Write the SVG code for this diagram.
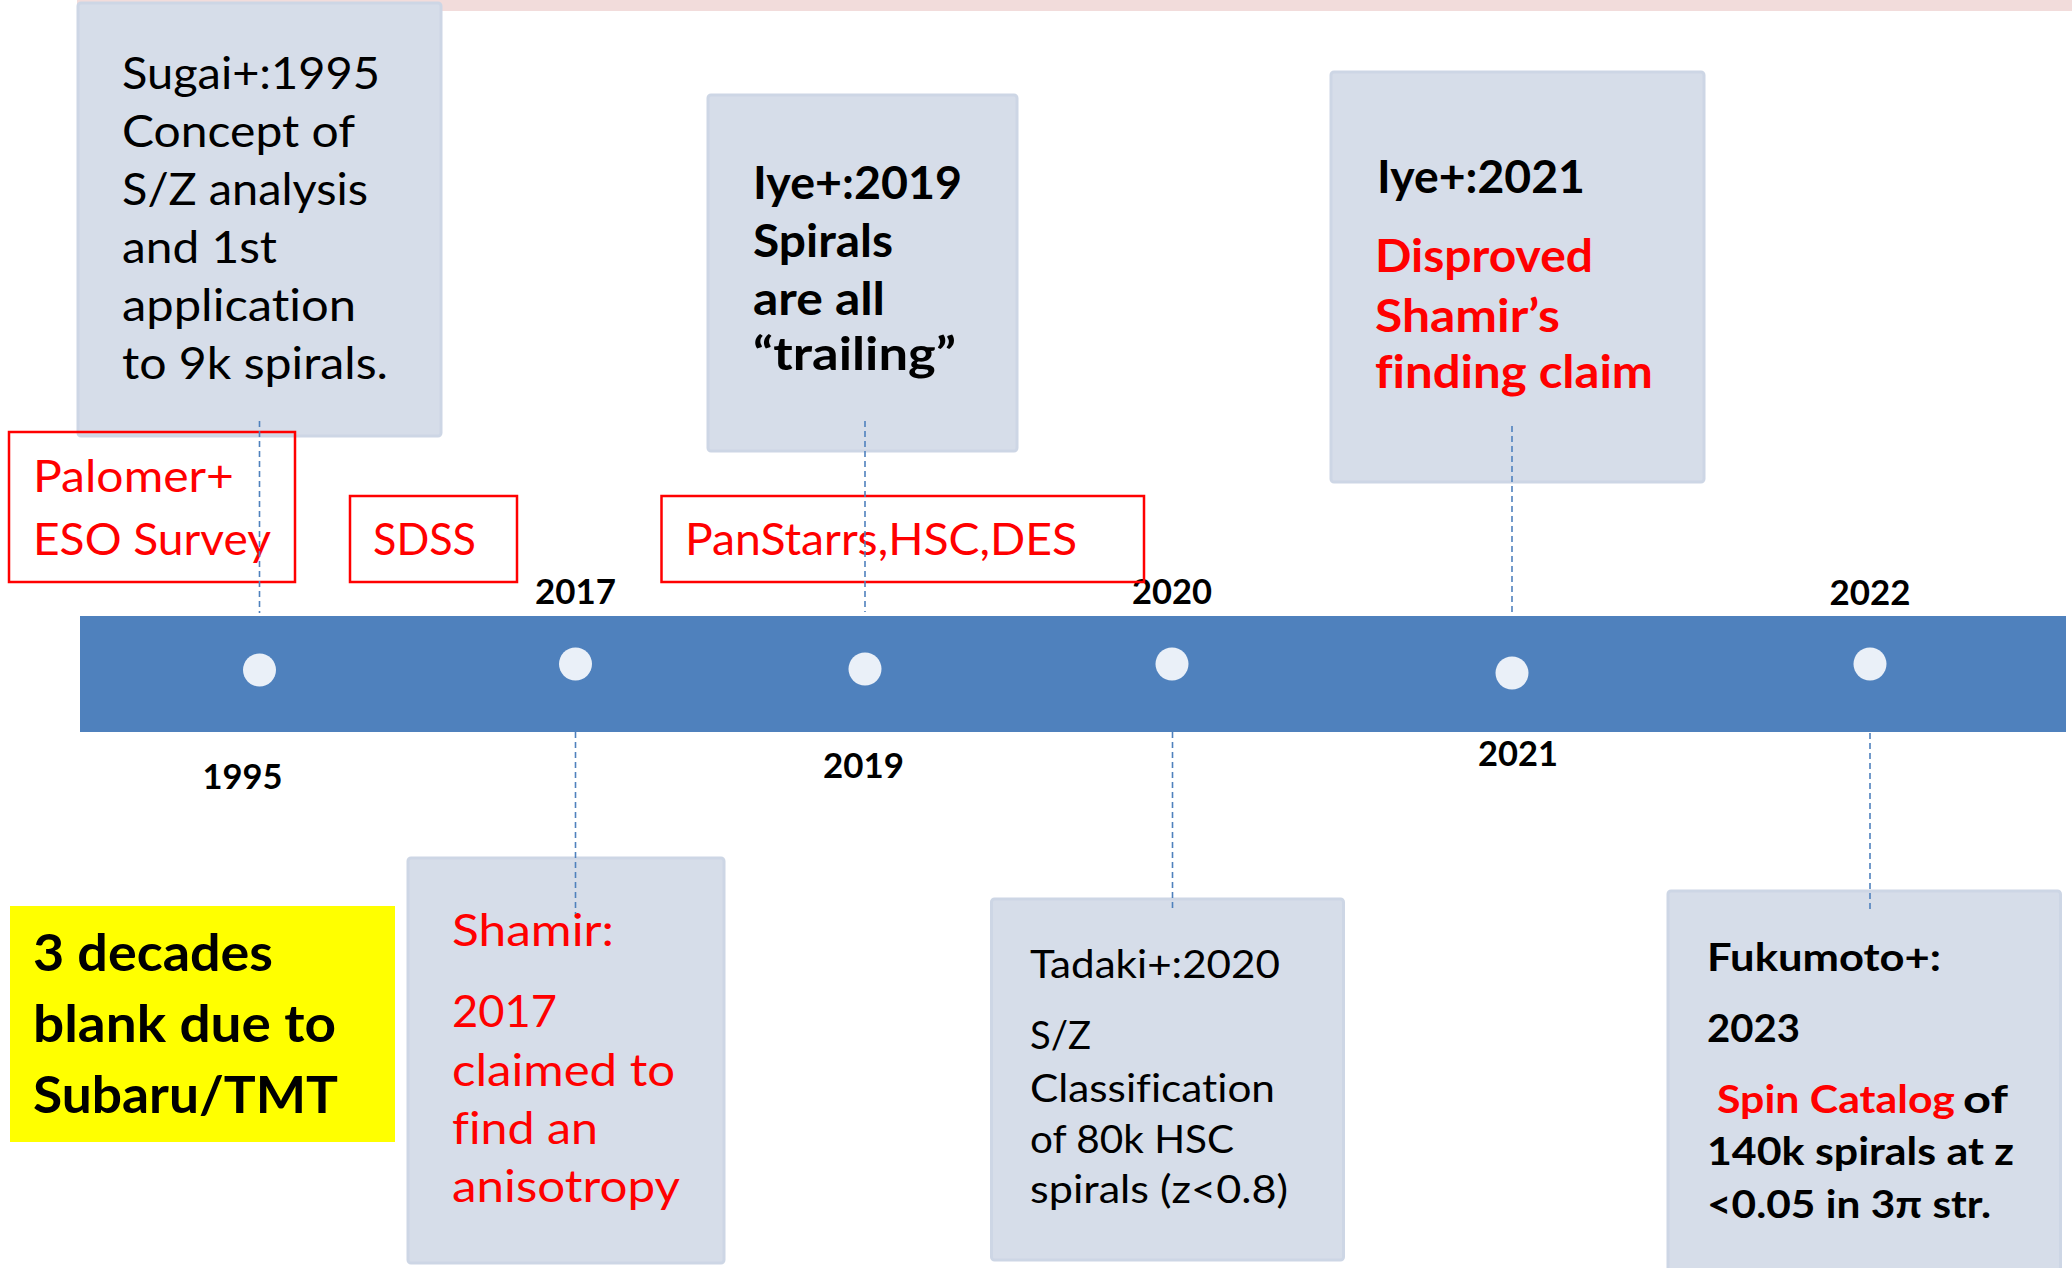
<svg xmlns="http://www.w3.org/2000/svg" width="2072" height="1268" viewBox="0 0 2072 1268">
  <style>
    text { font-family: Lato, "Open Sans", "Liberation Sans", sans-serif; font-variant-ligatures: none; font-feature-settings: "liga" 0, "dlig" 0; }
    .card { fill: #d6dde9; stroke: #cdd6e5; stroke-width: 3; }
    .survey { fill: none; stroke: #ff0000; stroke-width: 2.5; }
    .reg { font-size: 45px; font-weight: 400; }
    .bold { font-size: 46px; font-weight: 700; }
    .small { font-size: 39px; font-weight: 400; }
    .smallb { font-size: 39px; font-weight: 700; }
    .year { font-size: 35px; font-weight: 700; fill: #000; text-anchor: middle; }
    .ink { fill: #000; }
    .red { fill: #ff0000; }
    .lead { stroke: #4f81bd; stroke-width: 1.6; stroke-dasharray: 6 4; fill: none; }
    .dot { fill: #eaf0f8; }
  </style>

  <!-- header strip -->
  <rect x="77" y="0" width="1995" height="11" fill="#f2dcdb"/>

  <!-- timeline bar -->
  <g id="timeline">
    <rect x="80" y="616" width="1986" height="116" fill="#4f81bd"/>
    <circle class="dot" cx="259.5" cy="670" r="16.5"/>
    <circle class="dot" cx="575.5" cy="664" r="16.5"/>
    <circle class="dot" cx="865" cy="669" r="16.5"/>
    <circle class="dot" cx="1172" cy="664" r="16.5"/>
    <circle class="dot" cx="1512" cy="673" r="16.5"/>
    <circle class="dot" cx="1870" cy="664" r="16.5"/>
  </g>

  <!-- year labels -->
  <g id="years">
    <text class="year" x="242.5" y="789" textLength="80" lengthAdjust="spacingAndGlyphs">1995</text>
    <text class="year" x="575.5" y="604" textLength="81" lengthAdjust="spacingAndGlyphs">2017</text>
    <text class="year" x="863.5" y="778" textLength="81" lengthAdjust="spacingAndGlyphs">2019</text>
    <text class="year" x="1172" y="604" textLength="80" lengthAdjust="spacingAndGlyphs">2020</text>
    <text class="year" x="1518" y="766" textLength="80" lengthAdjust="spacingAndGlyphs">2021</text>
    <text class="year" x="1870" y="605" textLength="81" lengthAdjust="spacingAndGlyphs">2022</text>
  </g>

  <!-- 1995 paper -->
  <g id="sugai1995">
    <rect class="card" x="78" y="3" width="363" height="433" rx="3"/>
    <text class="reg ink" x="122" y="89" textLength="258" lengthAdjust="spacingAndGlyphs">Sugai+:1995</text>
    <text class="reg ink" x="122" y="147" textLength="233" lengthAdjust="spacingAndGlyphs">Concept of</text>
    <text class="reg ink" x="122" y="205" textLength="246" lengthAdjust="spacingAndGlyphs">S/Z analysis</text>
    <text class="reg ink" x="122" y="263" textLength="155" lengthAdjust="spacingAndGlyphs">and 1st</text>
    <text class="reg ink" x="122" y="321" textLength="234" lengthAdjust="spacingAndGlyphs">application</text>
    <text class="reg ink" x="122" y="379" textLength="266" lengthAdjust="spacingAndGlyphs">to 9k spirals.</text>
  </g>

  <!-- surveys -->
  <g id="survey-palomar">
    <rect class="survey" x="9" y="432" width="286" height="150"/>
    <text class="reg red" x="33" y="492" textLength="201" lengthAdjust="spacingAndGlyphs">Palomer+</text>
    <text class="reg red" x="33" y="555" textLength="238" lengthAdjust="spacingAndGlyphs">ESO Survey</text>
  </g>
  <g id="survey-sdss">
    <rect class="survey" x="350" y="496" width="167" height="86"/>
    <text class="reg red" x="373" y="555" textLength="103" lengthAdjust="spacingAndGlyphs">SDSS</text>
  </g>
  <g id="survey-panstarrs">
    <rect class="survey" x="661.5" y="496" width="482.5" height="86"/>
    <text class="reg red" x="685" y="555" textLength="392" lengthAdjust="spacingAndGlyphs">PanStarrs,HSC,DES</text>
  </g>

  <!-- 2019 paper -->
  <g id="iye2019">
    <rect class="card" x="708" y="95" width="309" height="356" rx="3"/>
    <text class="bold ink" x="753" y="199" textLength="209" lengthAdjust="spacingAndGlyphs">Iye+:2019</text>
    <text class="bold ink" x="753" y="257" textLength="140" lengthAdjust="spacingAndGlyphs">Spirals</text>
    <text class="bold ink" x="753" y="315" textLength="132" lengthAdjust="spacingAndGlyphs">are all</text>
    <text class="bold ink" x="753" y="370" textLength="203" lengthAdjust="spacingAndGlyphs">“trailing”</text>
  </g>

  <!-- 2021 paper -->
  <g id="iye2021">
    <rect class="card" x="1331" y="72" width="373" height="410" rx="3"/>
    <text class="bold ink" x="1377" y="193" textLength="208" lengthAdjust="spacingAndGlyphs">Iye+:2021</text>
    <text class="bold red" x="1375" y="272" textLength="218" lengthAdjust="spacingAndGlyphs">Disproved</text>
    <text class="bold red" x="1375" y="332" textLength="185" lengthAdjust="spacingAndGlyphs">Shamir’s</text>
    <text class="bold red" x="1375" y="388" textLength="278" lengthAdjust="spacingAndGlyphs">finding claim</text>
  </g>

  <!-- gap note -->
  <g id="gap-note">
    <rect x="10" y="906" width="385" height="236" fill="#ffff00"/>
    <text class="ink" x="33" y="971" font-size="52" font-weight="700" textLength="240" lengthAdjust="spacingAndGlyphs">3 decades</text>
    <text class="ink" x="33" y="1042" font-size="52" font-weight="700" textLength="303" lengthAdjust="spacingAndGlyphs">blank due to</text>
    <text class="ink" x="33" y="1113" font-size="52" font-weight="700" textLength="305" lengthAdjust="spacingAndGlyphs">Subaru/TMT</text>
  </g>

  <!-- 2017 claim -->
  <g id="shamir2017">
    <rect class="card" x="408" y="858" width="316" height="405" rx="3"/>
    <text class="reg red" x="452" y="946" textLength="162" lengthAdjust="spacingAndGlyphs">Shamir:</text>
    <text class="reg red" x="452" y="1027" textLength="105" lengthAdjust="spacingAndGlyphs">2017</text>
    <text class="reg red" x="452" y="1086" textLength="223" lengthAdjust="spacingAndGlyphs">claimed to</text>
    <text class="reg red" x="452" y="1144" textLength="146" lengthAdjust="spacingAndGlyphs">find an</text>
    <text class="reg red" x="452" y="1202" textLength="228" lengthAdjust="spacingAndGlyphs">anisotropy</text>
  </g>

  <!-- 2020 paper -->
  <g id="tadaki2020">
    <rect class="card" x="991.5" y="899" width="352" height="361" rx="3"/>
    <text class="small ink" x="1030" y="978" textLength="250" lengthAdjust="spacingAndGlyphs">Tadaki+:2020</text>
    <text class="small ink" x="1030" y="1049" textLength="61" lengthAdjust="spacingAndGlyphs">S/Z</text>
    <text class="small ink" x="1030" y="1102" textLength="245" lengthAdjust="spacingAndGlyphs">Classification</text>
    <text class="small ink" x="1030" y="1153" textLength="204" lengthAdjust="spacingAndGlyphs">of 80k HSC</text>
    <text class="small ink" x="1030" y="1203" textLength="258" lengthAdjust="spacingAndGlyphs">spirals (z&lt;0.8)</text>
  </g>

  <!-- 2023 catalogue -->
  <g id="fukumoto2023">
    <rect class="card" x="1668" y="891" width="392.5" height="390" rx="3"/>
    <text class="smallb ink" x="1707" y="971" textLength="234" lengthAdjust="spacingAndGlyphs">Fukumoto+:</text>
    <text class="smallb ink" x="1707" y="1042" textLength="93" lengthAdjust="spacingAndGlyphs">2023</text>
    <text class="smallb red" x="1717" y="1113" textLength="238" lengthAdjust="spacingAndGlyphs">Spin Catalog</text>
    <text class="smallb ink" x="1963" y="1113" textLength="45" lengthAdjust="spacingAndGlyphs">of</text>
    <text class="smallb ink" x="1707" y="1165" textLength="307" lengthAdjust="spacingAndGlyphs">140k spirals at z</text>
    <text class="smallb ink" x="1707" y="1218" textLength="284" lengthAdjust="spacingAndGlyphs">&lt;0.05 in 3π str.</text>
  </g>

  <!-- leader lines from events to the bar -->
  <g id="connectors">
    <line class="lead" x1="259.5" y1="421" x2="259.5" y2="613"/>
    <line class="lead" x1="575.5" y1="732" x2="575.5" y2="914"/>
    <line class="lead" x1="865" y1="421" x2="865" y2="612"/>
    <line class="lead" x1="1172.5" y1="732" x2="1172.5" y2="912"/>
    <line class="lead" x1="1512" y1="426" x2="1512" y2="615"/>
    <line class="lead" x1="1870" y1="733" x2="1870" y2="912"/>
  </g>
</svg>
